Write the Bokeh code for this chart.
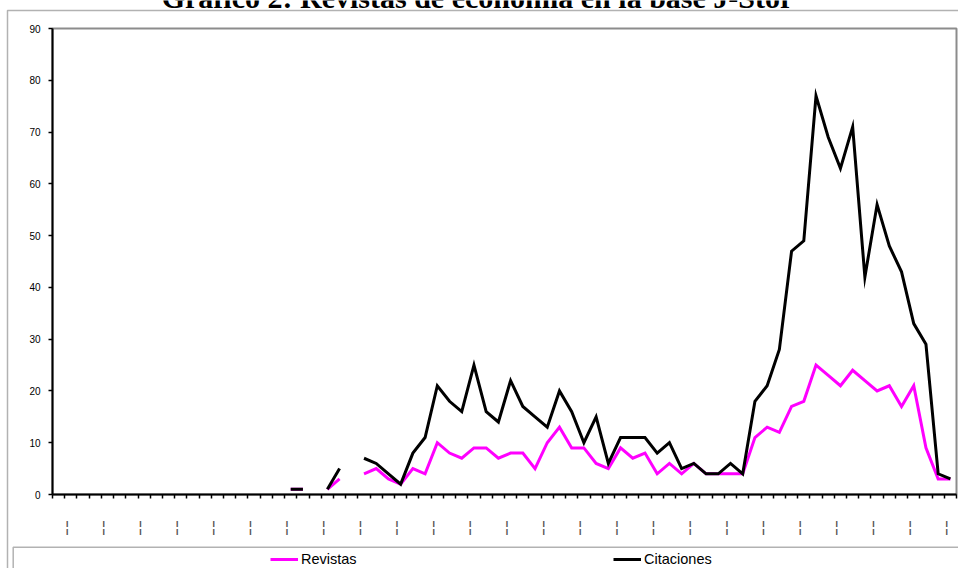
from bokeh.plotting import figure
from bokeh.models import (Range1d, FixedTicker, Legend, LegendItem,
                          PolyAnnotation, Label)
from bokeh.embed import file_html
from bokeh.resources import INLINE

# ---------------- data ----------------
title_text = "Gráfico 2: Revistas de economía en la base J-Stor"
n_categories = 74
# category labels (illegible compressed labels in the source; one every 3rd category)
label_indices = list(range(1, 74, 3))
tick_labels = ["¦"] * len(label_indices)

revistas = [None] * 19 + [
    1, 1, None, 1, 3, None, 4, 5, 3, 2,
    5, 4, 10, 8, 7, 9, 9, 7, 8, 8,
    5, 10, 13, 9, 9, 6, 5, 9, 7, 8,
    4, 6, 4, 6, 4, 4, 4, 4, 11, 13,
    12, 17, 18, 25, 23, 21, 24, 22, 20, 21,
    17, 21, 9, 3, 3]
citaciones = [None] * 19 + [
    1, 1, None, 1, 5, None, 7, 6, 4, 2,
    8, 11, 21, 18, 16, 25, 16, 14, 22, 17,
    15, 13, 20, 16, 10, 15, 6, 11, 11, 11,
    8, 10, 5, 6, 4, 4, 6, 4, 18, 21,
    28, 47, 49, 77, 69, 63, 71, 42, 56, 48,
    43, 33, 29, 4, 3]
y_ticks = list(range(0, 91, 10))
series_names = ["Revistas", "Citaciones"]
series_colors = ["#FF00FF", "black"]

W, H = 958, 568
page_pos = {"position": "absolute", "top": "0px", "left": "0px"}

def nanify(v):
    return [float("nan") if a is None else a for a in v]

# ---------------- background figure: title, chart border, legend ----------------
bg = figure(width=W, height=H, x_range=Range1d(0, W), y_range=Range1d(0, H),
            x_axis_type=None, y_axis_type=None, output_backend="svg",
            toolbar_location=None, min_border=0, background_fill_color="white",
            border_fill_color="white")
bg.styles = page_pos
bg.grid.visible = False
bg.outline_line_color = None

bg.add_layout(PolyAnnotation(xs=[7, 7, 3000, 3000], ys=[3000, 10, 10, 3000],
                             xs_units="canvas", ys_units="canvas",
                             fill_alpha=0, line_color="black", line_width=1.5))
bg.add_layout(PolyAnnotation(xs=[12.7, 12.7, 3000, 3000], ys=[3000, 546.7, 546.7, 3000],
                             xs_units="canvas", ys_units="canvas",
                             fill_alpha=0, line_color="black", line_width=1.5))
bg.add_layout(Label(x=477, y=-2.7, x_units="canvas", y_units="canvas", text=title_text,
                    text_font="Liberation Serif", text_font_style="bold",
                    text_font_size="30px", text_align="center",
                    text_baseline="alphabetic", text_color="black"))

# legend keys: renderers kept outside the visible range, used only for the key samples
key_renderers = [bg.line([-20, -10], [-20, -10], line_color=c, line_width=3)
                 for c in series_colors]
legend = Legend(items=[LegendItem(label=n, renderers=[r])
                       for n, r in zip(series_names, key_renderers)],
                orientation="horizontal", location=(270, 0.3),
                border_line_color=None, background_fill_alpha=0,
                padding=0, margin=0, spacing=0, glyph_width=28, glyph_height=18,
                label_height=18, label_width=312, label_standoff=3,
                label_text_font="Liberation Sans", label_text_font_size="14.5px",
                label_text_color="black")
bg.add_layout(legend)

# ---------------- main chart ----------------
xs = [i + 0.5 for i in range(n_categories)]

p = figure(width=W, height=H, x_range=Range1d(0, n_categories),
           y_range=Range1d(0, 90), output_backend="svg", toolbar_location=None,
           min_border_left=52, min_border_right=2, min_border_top=28,
           min_border_bottom=74, background_fill_alpha=0, border_fill_alpha=0)
p.styles = page_pos
p.grid.visible = False
p.outline_line_color = "#8c8c8c"
p.outline_line_width = 2

p.yaxis.ticker = FixedTicker(ticks=y_ticks)
p.yaxis.major_tick_out = 4
p.yaxis.major_tick_in = 0
p.yaxis.minor_tick_out = 0
p.yaxis.minor_tick_in = 0
p.yaxis.axis_line_width = 2
p.yaxis.axis_line_color = "black"
p.yaxis.major_tick_line_color = "black"
p.yaxis.major_tick_line_width = 1.5
p.yaxis.major_label_text_font = "Liberation Sans"
p.yaxis.major_label_text_font_size = "10px"
p.yaxis.major_label_text_color = "black"
p.yaxis.major_label_standoff = 8

label_pos = [i + 0.2 for i in label_indices]
p.xaxis.ticker = FixedTicker(ticks=label_pos, minor_ticks=list(range(n_categories + 1)))
p.xaxis.major_label_overrides = {pos: lab for pos, lab in zip(label_pos, tick_labels)}
p.xaxis.major_tick_out = 0
p.xaxis.major_tick_in = 0
p.xaxis.minor_tick_out = 4
p.xaxis.minor_tick_in = 0
p.xaxis.minor_tick_line_color = "black"
p.xaxis.minor_tick_line_width = 1.5
p.xaxis.axis_line_width = 2
p.xaxis.axis_line_color = "black"
p.xaxis.major_label_text_font = "DejaVu Sans"
p.xaxis.major_label_text_font_size = "16px"
p.xaxis.major_label_text_color = "#555555"
p.xaxis.major_label_standoff = 18

p.line(xs, nanify(revistas), line_color=series_colors[0], line_width=3, line_join="miter")
p.line(xs, nanify(citaciones), line_color=series_colors[1], line_width=3, line_join="miter")

open("out.html", "w").write(file_html([bg, p], INLINE))
